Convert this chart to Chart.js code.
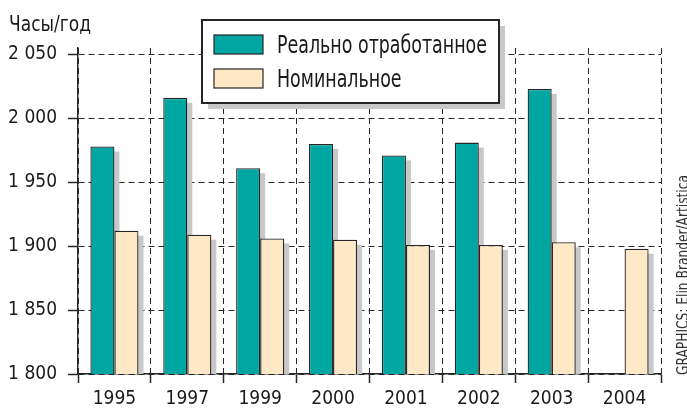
<!DOCTYPE html>
<html>
<head>
<meta charset="utf-8">
<script src="https://cdn.jsdelivr.net/npm/chart.js@4"></script>
<style>
  html, body { margin: 0; padding: 0; background: #fff; }
  canvas { display: block; }
</style>
</head>
<body>
<canvas id="hours" width="687" height="410"></canvas>
<script>
"use strict";

/* --- DATA --- */

const years = ['1995', '1997', '1999', '2000', '2001', '2002', '2003', '2004'];
const real_hours = [1978, 2016, 1961, 1980, 1971, 1981, 2023, null];
const nominal_hours = [1912, 1909, 1906, 1905, 1901, 1901, 1903, 1898];
const y_ticks = [1800, 1850, 1900, 1950, 2000, 2050];

const FONT = "'DejaVu Sans Condensed', 'Roboto', sans-serif";
const TEAL = '#00a6a2';
const CREAM = '#fee8c6';
const INK = '#262626';
const SHADOW = '#c8c8c8';

/* --- PLUGINS --- */

// grey drop shadow behind every bar
const bar_shadow = {
  id: 'barShadow',
  beforeDatasetsDraw(chart) {
    const ctx = chart.ctx;
    const area = chart.chartArea;
    ctx.save();
    ctx.beginPath();
    ctx.rect(area.left, area.top, area.right - area.left, area.bottom - area.top);
    ctx.clip();
    ctx.fillStyle = SHADOW;
    chart.data.datasets.forEach((ds, i) => {
      chart.getDatasetMeta(i).data.forEach((bar, j) => {
        if (ds.data[j] == null) return;
        const w = bar.width;
        ctx.fillRect(bar.x - w / 2 + 5, bar.y + 5, w, bar.base - bar.y);
      });
    });
    ctx.restore();
  }
};

// boxed legend with shadow, title and credit text
const extras = {
  id: 'extras',
  afterDraw(chart) {
    const ctx = chart.ctx;
    ctx.save();

    // legend box
    const bx = 202, by = 20, bw = 297, bh = 83;
    ctx.fillStyle = SHADOW;
    ctx.fillRect(bx + 6, by + 6, bw, bh);
    ctx.fillStyle = '#fff';
    ctx.fillRect(bx, by, bw, bh);
    ctx.strokeStyle = INK;
    ctx.lineWidth = 2;
    ctx.strokeRect(bx, by, bw, bh);

    ctx.font = '24px ' + FONT;
    ctx.textBaseline = 'alphabetic';
    ctx.textAlign = 'left';
    // squeeze text to the condensed face of the original
    const squeeze = 210 / ctx.measureText(chart.data.datasets[0].label).width;
    chart.data.datasets.forEach((ds, i) => {
      const sy = 35 + i * 34;
      ctx.fillStyle = ds.backgroundColor;
      ctx.fillRect(214, sy, 49, 19);
      ctx.lineWidth = 1.2;
      ctx.strokeStyle = INK;
      ctx.strokeRect(214, sy, 49, 19);
      ctx.fillStyle = '#1a1a1a';
      const w = ctx.measureText(ds.label).width * squeeze;
      ctx.fillText(ds.label, 277, sy + 18, w);
    });

    // axis title
    ctx.font = '22px ' + FONT;
    ctx.fillStyle = '#1a1a1a';
    ctx.fillText('Часы/год', 9, 31, 82);

    // credit, rotated
    ctx.translate(688, 375);
    ctx.rotate(-Math.PI / 2);
    ctx.font = '16px ' + FONT;
    ctx.fillStyle = '#333';
    ctx.fillText('GRAPHICS: Elin Brander/Artistica', 0, 0, 200);

    ctx.restore();
  }
};

/* --- CHART --- */

const hours_chart = new Chart(document.getElementById('hours'), {
  type: 'bar',
  data: {
    labels: years,
    datasets: [{
      label: 'Реально отработанное',
      data: real_hours,
      backgroundColor: TEAL,
      borderColor: INK,
      borderWidth: 1.3,
      barPercentage: 1,
      categoryPercentage: 0.66
    }, {
      label: 'Номинальное',
      data: nominal_hours,
      backgroundColor: CREAM,
      borderColor: INK,
      borderWidth: 1.3,
      barPercentage: 1,
      categoryPercentage: 0.66
    }]
  },
  plugins: [bar_shadow, extras],
  options: {
    responsive: false,
    animation: false,
    devicePixelRatio: 1,
    layout: { padding: { top: 48, right: 26, left: 0, bottom: 0 } },
    plugins: {
      legend: { display: false },
      tooltip: { enabled: false },
      title: { display: false }
    },
    scales: {
      x: {
        afterFit(scale) { scale.height = 36; },
        border: { display: true, color: INK, width: 1.5, dash: [6, 4] },
        grid: {
          offset: true,
          color: INK,
          lineWidth: 1,
          tickBorderDash: [],
          tickLength: 9,
          tickColor: INK,
          tickWidth: 1.5
        },
        ticks: {
          color: '#1a1a1a',
          font: { family: FONT, size: 19 },
          padding: 5,
          maxRotation: 0
        }
      },
      y: {
        min: 1800,
        max: 2055,
        afterFit(scale) { scale.width = 78; },
        afterBuildTicks(scale) {
          scale.ticks = y_ticks.map(v => ({ value: v }));
        },
        border: { display: true, color: INK, width: 1.5, dash: [6, 4] },
        grid: {
          color: INK,
          lineWidth: 1,
          tickBorderDash: [],
          tickLength: 10,
          tickColor: INK,
          tickWidth: 1.5
        },
        ticks: {
          color: '#1a1a1a',
          font: { family: FONT, size: 19 },
          padding: 11,
          callback: v => String(v).replace(/(\d)(\d{3})$/, '$1 $2')
        }
      }
    }
  }
});
</script>
</body>
</html>
